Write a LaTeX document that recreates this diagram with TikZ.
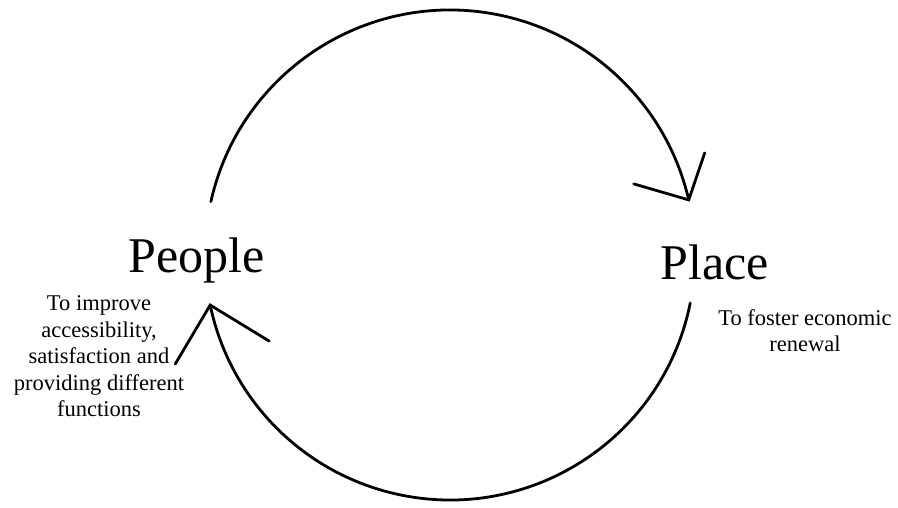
\documentclass[tikz,border=0pt]{standalone}
\usepackage{fontspec}
\setmainfont{Liberation Serif}
\usetikzlibrary{positioning,calc}

\begin{document}
\begin{tikzpicture}[x=1pt,y=1pt,line width=2.8pt,line cap=round,
  big/.style={font=\fontsize{50}{60}\selectfont,inner sep=0pt,anchor=base},
  note/.style={font=\fontsize{22.5}{26.5}\selectfont,align=center,inner sep=0pt,anchor=base}]
  \useasboundingbox (0,0) rectangle (898,508);
  \coordinate (c) at (450,253);
  \node[big](pe) at (197,235){People};
  \node[big](pl) at (715,228){Place};
  \node[note](npe) at (99,91){To improve\\accessibility,\\satisfaction and\\providing different\\functions};
  \node[note](npl) at (805,156){To foster economic\\renewal};
  % cycle
  \draw ([shift={(167.4:245pt)}]c) coordinate (s1) arc[start angle=167.4,end angle=13,radius=245pt] coordinate (t1);
  \draw ([shift={(-11.3:245pt)}]c) coordinate (s2) arc[start angle=-11.3,end angle=-168.2,radius=245pt] coordinate (t2);
  \draw ($(t1)+(-55,16)$)--(t1)--($(t1)+(16,47)$);
  \draw ($(t2)+(-35,-59)$)--(t2)--($(t2)+(59,-36)$);
\end{tikzpicture}
\end{document}
